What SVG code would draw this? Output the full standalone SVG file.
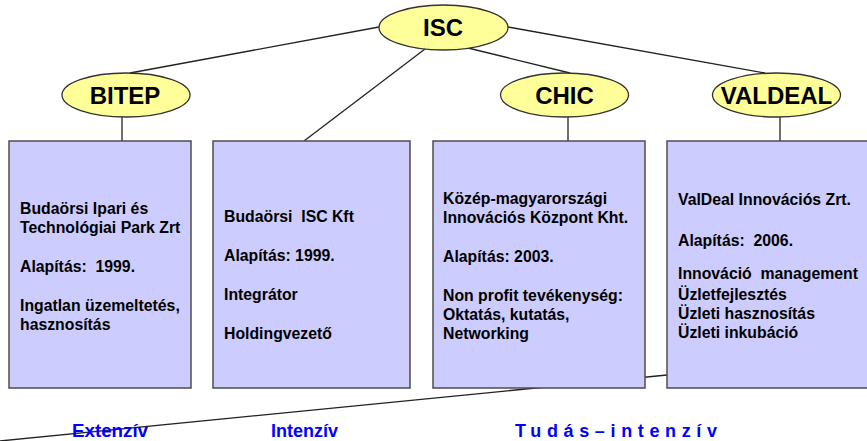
<svg xmlns="http://www.w3.org/2000/svg" width="867" height="441" viewBox="0 0 867 441">
<style>
.ell{fill:#ffff99;stroke:#333;stroke-width:1.3}
.box{fill:#ccccff;stroke:#4d4d4d;stroke-width:1.5}
.et{font-family:"Liberation Sans",Arial,sans-serif;font-weight:bold;font-size:24px;fill:#000;text-anchor:middle}
.bt{font-family:"Liberation Sans",Arial,sans-serif;font-weight:bold;font-size:15.8px;fill:#000}
.lt{font-family:"Liberation Sans",Arial,sans-serif;font-weight:bold;font-size:18px;fill:#0000ff}
.con{stroke:#222;stroke-width:1.3;fill:none}
</style>
<rect width="867" height="441" fill="#fff"/>
<g id="connectors">
<line class="con" x1="379" y1="27" x2="130" y2="73"/>
<line class="con" x1="425" y1="49" x2="304" y2="141"/>
<line class="con" x1="468" y1="48" x2="570" y2="73"/>
<line class="con" x1="508" y1="27" x2="765" y2="73"/>
<line class="con" x1="122" y1="117" x2="122" y2="141"/>
<line class="con" x1="568" y1="117" x2="568" y2="141"/>
<line class="con" x1="780" y1="117" x2="780" y2="141"/>
<line class="con" x1="0" y1="441" x2="667" y2="375"/>
</g>
<g id="isc"><ellipse class="ell" cx="443.5" cy="27.5" rx="64.5" ry="22.5"/><text class="et" x="443" y="36">ISC</text></g>
<g id="bitep"><ellipse class="ell" cx="126" cy="95" rx="64" ry="22"/><text class="et" x="125" y="103.5">BITEP</text></g>
<g id="chic"><ellipse class="ell" cx="564.5" cy="95" rx="64" ry="22"/><text class="et" x="564.5" y="103.5">CHIC</text></g>
<g id="valdeal"><ellipse class="ell" cx="776.5" cy="95" rx="64" ry="22"/><text class="et" x="776.5" y="103.5">VALDEAL</text></g>
<g id="box-bitep"><rect class="box" x="9" y="141" width="182" height="247"/>
<text class="bt"><tspan x="20" y="213.5">Budaörsi Ipari és</tspan><tspan x="20" y="232.5">Technológiai Park Zrt</tspan><tspan x="20" y="271.5" xml:space="preserve">Alapítás:  1999.</tspan><tspan x="20" y="310.5">Ingatlan üzemeltetés,</tspan><tspan x="20" y="329.5">hasznosítás</tspan></text></g>
<g id="box-isc"><rect class="box" x="213" y="141" width="197" height="247"/>
<text class="bt"><tspan x="224" y="221.5" xml:space="preserve">Budaörsi  ISC Kft</tspan><tspan x="224" y="260.5">Alapítás: 1999.</tspan><tspan x="224" y="299.5">Integrátor</tspan><tspan x="224" y="338.5">Holdingvezető</tspan></text></g>
<g id="box-chic"><rect class="box" x="433" y="141" width="212" height="247"/>
<text class="bt"><tspan x="443" y="203.5">Közép-magyarországi</tspan><tspan x="443" y="222.5">Innovációs Központ Kht.</tspan><tspan x="443" y="261.5">Alapítás: 2003.</tspan><tspan x="443" y="300.5">Non profit tevékenység:</tspan><tspan x="443" y="319.5">Oktatás, kutatás,</tspan><tspan x="443" y="338.5">Networking</tspan></text></g>
<g id="box-valdeal"><rect class="box" x="667" y="141" width="212" height="247"/>
<text class="bt"><tspan x="678" y="204.5">ValDeal Innovációs Zrt.</tspan><tspan x="678" y="245.5" xml:space="preserve">Alapítás:  2006.</tspan><tspan x="678" y="278.5" xml:space="preserve">Innováció  management</tspan><tspan x="678" y="300">Üzletfejlesztés</tspan><tspan x="678" y="319">Üzleti hasznosítás</tspan><tspan x="678" y="338">Üzleti inkubáció</tspan></text></g>
<g id="labels">
<text class="lt" x="72" y="437" textLength="76" lengthAdjust="spacingAndGlyphs">Extenzív</text>
<text class="lt" x="271" y="437" textLength="67" lengthAdjust="spacingAndGlyphs">Intenzív</text>
<text class="lt" x="515" y="437" textLength="202" lengthAdjust="spacing">Tudás–intenzív</text>
</g>
</svg>
